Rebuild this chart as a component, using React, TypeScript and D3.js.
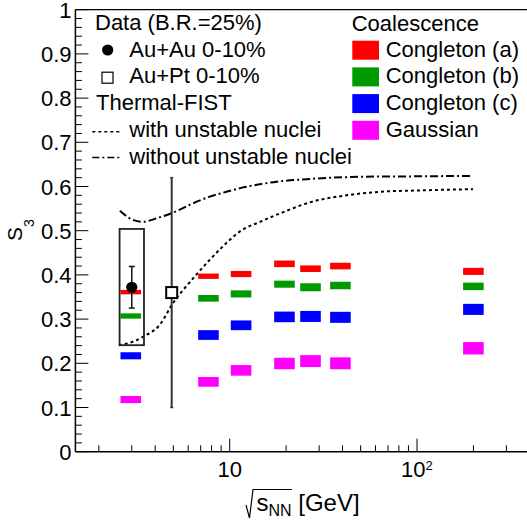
import React from 'react';
import * as d3 from 'd3';

// ---------- data ----------
const energies = [3, 7.7, 11.5, 19.6, 27, 39, 200];
const congletonA = [0.361, 0.397, 0.402, 0.425, 0.414, 0.42, 0.408];
const congletonAErr = [0.005, 0.006, 0.007, 0.0075, 0.0075, 0.0075, 0.008];
const congletonB = [0.307, 0.347, 0.357, 0.379, 0.372, 0.376, 0.374];
const congletonBErr = [0.006, 0.0075, 0.008, 0.008, 0.009, 0.0085, 0.0085];
const congletonC = [0.217, 0.264, 0.286, 0.305, 0.306, 0.304, 0.322];
const congletonCErr = [0.008, 0.011, 0.011, 0.012, 0.0125, 0.0125, 0.0125];
const gaussian = [0.118, 0.158, 0.184, 0.1995, 0.205, 0.2, 0.234];
const gaussianErr = [0.008, 0.011, 0.012, 0.013, 0.0135, 0.0135, 0.014];

const coalLabels = ['Congleton (a)', 'Congleton (b)', 'Congleton (c)', 'Gaussian'];
const coalColors = ['#ff0000', '#009900', '#0000ff', '#ff00ff'];

const auauEnergy = [3.0];
const auauS3 = [0.372];
const auauStat = [0.047];
const auauSysLow = [0.131];
const auauSysHigh = [0.132];

const auptEnergy = [4.9];
const auptS3 = [0.36];
const auptErr = [0.26];

const withUnstableX = [2.56, 3.0, 3.44, 4.23, 4.98, 6.37, 7.82, 9.6, 11.3, 14.5, 19.3, 26.7, 42, 63, 100, 199];
const withUnstableY = [0.241, 0.248, 0.26, 0.287, 0.336, 0.392, 0.434, 0.472, 0.498, 0.52, 0.542, 0.564, 0.58, 0.588, 0.591, 0.594];
const withoutUnstableX = [2.59, 2.93, 3.44, 4.06, 4.98, 6.37, 7.82, 9.6, 11.8, 14.5, 17.8, 24.6, 51, 100, 196];
const withoutUnstableY = [0.545, 0.528, 0.52, 0.528, 0.541, 0.562, 0.577, 0.588, 0.598, 0.605, 0.611, 0.616, 0.622, 0.623, 0.624];

const yTicks = [0, 0.1, 0.2, 0.3, 0.4, 0.5, 0.6, 0.7, 0.8, 0.9, 1];
const yTickLabels = ['0', '0.1', '0.2', '0.3', '0.4', '0.5', '0.6', '0.7', '0.8', '0.9', '1'];
const xMajorTicks = [10, 100];
const xMinorTicks = [2, 3, 4, 5, 6, 7, 8, 9, 20, 30, 40, 50, 60, 70, 80, 90, 200, 300];

// ---------- layout ----------
const W = 527;
const H = 525;
const FONT = "'Liberation Sans', Arial, Helvetica, sans-serif";
const plotLeft = 75.4;
const decade = 187.3;
const xMin = 1.5;
const xMax = 400;
const plotRight = plotLeft + decade * Math.log10(xMax / xMin);
const plotTop = 9.7;
const plotBottom = 451.7;

export default function App() {
  const x = d3.scaleLog().domain([xMin, xMax]).range([plotLeft, plotRight]);
  const y = d3.scaleLinear().domain([0, 1]).range([plotBottom, plotTop]);

  const line = d3
    .line<[number, number]>()
    .x((d) => x(d[0]))
    .y((d) => y(d[1]))
    .curve(d3.curveMonotoneX);

  const withPts = withUnstableX.map((v, i) => [v, withUnstableY[i]] as [number, number]);
  const withoutPts = withoutUnstableX.map((v, i) => [v, withoutUnstableY[i]] as [number, number]);

  const series = [
    { v: congletonA, e: congletonAErr },
    { v: congletonB, e: congletonBErr },
    { v: congletonC, e: congletonCErr },
    { v: gaussian, e: gaussianErr },
  ];

  const yMinor: number[] = d3.range(0, 1.0001, 0.02);
  const barHalf = 10.3;

  const rowY = (i: number) => 30 + 26.7 * i;

  return (
    <svg
      width={W}
      height={H}
      style={{ position: 'absolute', left: 0, top: 0, background: '#fff' }}
      fontFamily={FONT}
    >
      <rect x={0} y={0} width={W} height={H} fill="#fff" />

      {/* curves */}
      <path d={line(withoutPts) || ''} fill="none" stroke="#000" strokeWidth={2} strokeDasharray="8,3,2,3" />
      <path d={line(withPts) || ''} fill="none" stroke="#000" strokeWidth={2} strokeDasharray="3,3" />

      {/* coalescence bars */}
      {series.map((s, si) =>
        energies.map((en, i) => (
          <rect
            key={`b${si}-${i}`}
            x={x(en) - barHalf - (i === 0 ? 1 : 0)}
            width={barHalf * 2}
            y={y(s.v[i] + s.e[i])}
            height={y(s.v[i] - s.e[i]) - y(s.v[i] + s.e[i])}
            fill={coalColors[si]}
          />
        ))
      )}

      {/* Au+Au systematic box */}
      {auauEnergy.map((en, i) => (
        <g key={`auau${i}`}>
          <rect
            x={x(en) - 12.2}
            width={24.4}
            y={y(auauS3[i] + auauSysHigh[i])}
            height={y(auauS3[i] - auauSysLow[i]) - y(auauS3[i] + auauSysHigh[i])}
            fill="none"
            stroke="#222"
            strokeWidth={1.8}
          />
          <line x1={x(en)} x2={x(en)} y1={y(auauS3[i] + auauStat[i])} y2={y(auauS3[i] - auauStat[i])} stroke="#111" strokeWidth={1.5} />
          <line x1={x(en) - 3} x2={x(en) + 3} y1={y(auauS3[i] + auauStat[i])} y2={y(auauS3[i] + auauStat[i])} stroke="#111" strokeWidth={1.5} />
          <line x1={x(en) - 3} x2={x(en) + 3} y1={y(auauS3[i] - auauStat[i])} y2={y(auauS3[i] - auauStat[i])} stroke="#111" strokeWidth={1.5} />
          <circle cx={x(en)} cy={y(auauS3[i])} r={5.6} fill="#000" />
        </g>
      ))}

      {/* Au+Pt */}
      {auptEnergy.map((en, i) => (
        <g key={`aupt${i}`}>
          <line x1={x(en)} x2={x(en)} y1={y(auptS3[i] + auptErr[i])} y2={y(auptS3[i] - auptErr[i])} stroke="#333" strokeWidth={2} />
          <line x1={x(en) - 1.5} x2={x(en) + 1.5} y1={y(auptS3[i] + auptErr[i])} y2={y(auptS3[i] + auptErr[i])} stroke="#333" strokeWidth={1.5} />
          <line x1={x(en) - 1.5} x2={x(en) + 1.5} y1={y(auptS3[i] - auptErr[i])} y2={y(auptS3[i] - auptErr[i])} stroke="#333" strokeWidth={1.5} />
          <rect x={x(en) - 5.5} y={y(auptS3[i]) - 5.5} width={11} height={11} fill="#fff" stroke="#000" strokeWidth={2} />
        </g>
      ))}

      {/* frame / axes */}
      <line x1={plotLeft} x2={W} y1={plotTop} y2={plotTop} stroke="#000" strokeWidth={1.3} />
      <line x1={plotLeft} x2={W} y1={plotBottom} y2={plotBottom} stroke="#000" strokeWidth={1.5} />
      <line x1={plotLeft} x2={plotLeft} y1={plotTop} y2={plotBottom} stroke="#000" strokeWidth={1.5} />

      {/* y ticks */}
      {yMinor.map((t, i) => {
        const major = i % 5 === 0;
        return (
          <line key={`ym${i}`} x1={plotLeft} x2={plotLeft + (major ? 13 : 6.5)} y1={y(t)} y2={y(t)} stroke="#000" strokeWidth={1} />
        );
      })}
      {yTicks.map((t, i) => (
        <text key={`yl${i}`} x={71.5} y={y(t) + 8} fontSize={22} textAnchor="end" fill="#000">
          {yTickLabels[i]}
        </text>
      ))}

      {/* x ticks */}
      {xMinorTicks.map((t, i) => (
        <line key={`xm${i}`} x1={x(t)} x2={x(t)} y1={plotBottom} y2={plotBottom - 6.5} stroke="#000" strokeWidth={1} />
      ))}
      {xMajorTicks.map((t, i) => (
        <line key={`xM${i}`} x1={x(t)} x2={x(t)} y1={plotBottom} y2={plotBottom - 13} stroke="#000" strokeWidth={1} />
      ))}
      <text x={x(xMajorTicks[0])} y={476.5} fontSize={22} textAnchor="middle">10</text>
      <text x={x(xMajorTicks[1]) - 16} y={476.5} fontSize={22}>
        10<tspan dy={-7} fontSize={13}>2</tspan>
      </text>

      {/* x title */}
      <path d="M246,505 L249.5,518 L253,489.5 L292,489.5" fill="none" stroke="#000" strokeWidth={1.2} />
      <text x={256.5} y={511} fontSize={24}>
        s<tspan dy={5} fontSize={16}>NN</tspan>
        <tspan dy={-5} fontSize={24}> [GeV]</tspan>
      </text>

      {/* y title */}
      <text transform="translate(22,241) rotate(-90)" fontSize={21}>
        S<tspan dy={12} fontSize={14}>3</tspan>
      </text>

      {/* left legend */}
      <text x={95} y={rowY(0)} fontSize={22}>Data (B.R.=25%)</text>
      <circle cx={107.7} cy={50} r={5.6} fill="#000" />
      <text x={129.3} y={rowY(1)} fontSize={22}>Au+Au 0-10%</text>
      <rect x={102} y={72.2} width={11} height={11} fill="#fff" stroke="#000" strokeWidth={1.2} />
      <text x={129.3} y={rowY(2)} fontSize={22}>Au+Pt 0-10%</text>
      <text x={96} y={rowY(3)} fontSize={22}>Thermal-FIST</text>
      <line x1={92.3} x2={121} y1={rowY(4) - 5} y2={rowY(4) - 5} stroke="#000" strokeWidth={1.6} strokeDasharray="3,3" />
      <text x={129.3} y={rowY(4)} fontSize={22}>with unstable nuclei</text>
      <line x1={92.3} x2={121} y1={rowY(5) - 6} y2={rowY(5) - 6} stroke="#000" strokeWidth={1.6} strokeDasharray="7,3,2,3" />
      <text x={129.3} y={rowY(5)} fontSize={22}>without unstable nuclei</text>

      {/* right legend */}
      <text x={351.7} y={rowY(0) + 0.5} fontSize={22}>Coalescence</text>
      {coalLabels.map((lab, i) => (
        <g key={`cl${i}`}>
          <rect x={352.3} y={rowY(i + 1) - 16} width={26.7} height={19} fill={coalColors[i]} />
          <text x={385.7} y={rowY(i + 1)} fontSize={22}>{lab}</text>
        </g>
      ))}
    </svg>
  );
}
